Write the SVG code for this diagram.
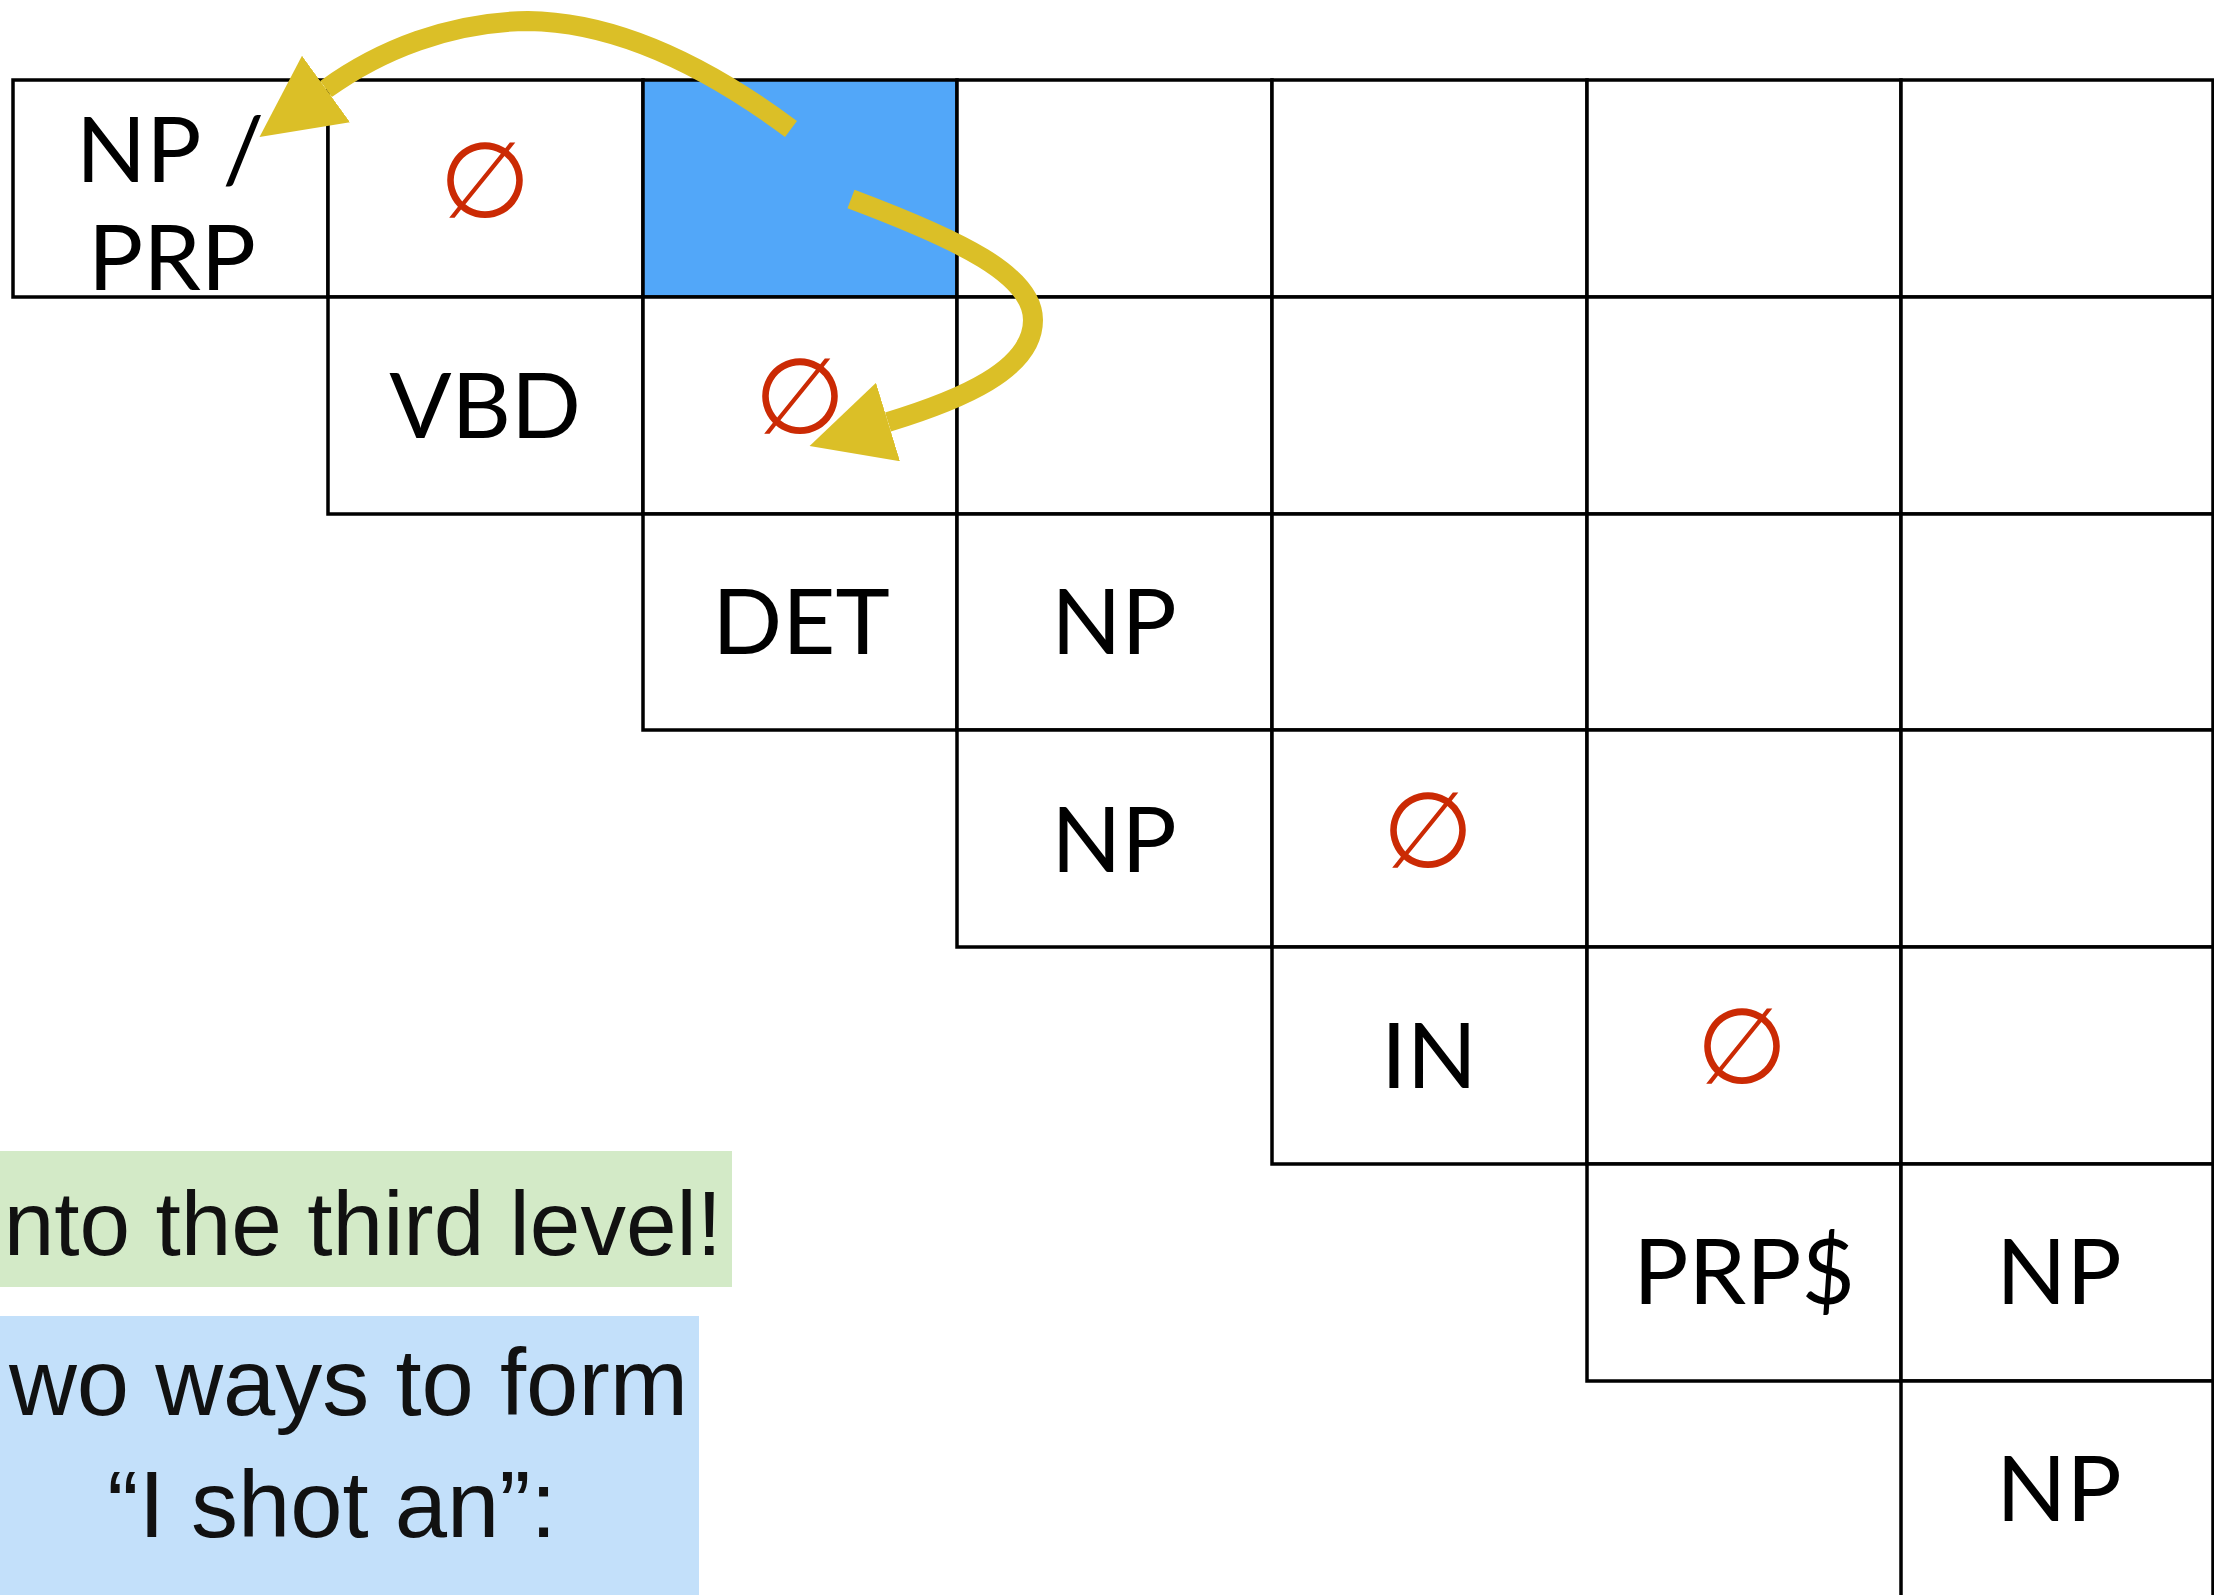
<svg xmlns="http://www.w3.org/2000/svg" width="2214" height="1595" viewBox="0 0 2214 1595">
<defs>
<style>
.cell{fill:#ffffff;stroke:#000000;stroke-width:3.5}
.hl{fill:#52A7F9}
.lbl{font-family:"Lato","Liberation Sans",sans-serif;font-size:92px;fill:#000000;text-anchor:middle}
.empty{font-family:"DejaVu Sans",sans-serif;font-size:105px;fill:#CB2A04;text-anchor:middle}
.arrow{fill:none;stroke:#DBBF27;stroke-width:20;stroke-linecap:butt}
.note{font-family:"Liberation Sans",Arial,sans-serif;font-size:94px;fill:#111111}
.note-s{font-size:91px}
</style>
<marker id="head" markerUnits="userSpaceOnUse" viewBox="0 0 82 82" markerWidth="82" markerHeight="82" refX="0" refY="41" orient="auto">
<path d="M0,0 L82,41 L0,82 Z" fill="#DBBF27"/>
</marker>
</defs>
<rect width="2214" height="1595" fill="#ffffff"/>

<g id="r0c0"><rect class="cell" x="13" y="80" width="315" height="217"/><text class="lbl" x="170" y="182">NP /</text><text class="lbl" x="172" y="290">PRP</text></g>
<g id="r0c1"><rect class="cell" x="328" y="80" width="315" height="217"/><text class="empty" x="485" y="217">∅</text></g>
<g id="r0c2"><rect class="cell hl" x="643" y="80" width="314" height="217"/></g>
<g id="r0c3"><rect class="cell" x="957" y="80" width="315" height="217"/></g>
<g id="r0c4"><rect class="cell" x="1272" y="80" width="315" height="217"/></g>
<g id="r0c5"><rect class="cell" x="1587" y="80" width="314" height="217"/></g>
<g id="r0c6"><rect class="cell" x="1901" y="80" width="312" height="217"/></g>

<g id="r1c1"><rect class="cell" x="328" y="297" width="315" height="217"/><text class="lbl" x="485" y="438">VBD</text></g>
<g id="r1c2"><rect class="cell" x="643" y="297" width="314" height="217"/><text class="empty" x="800" y="433">∅</text></g>
<g id="r1c3"><rect class="cell" x="957" y="297" width="315" height="217"/></g>
<g id="r1c4"><rect class="cell" x="1272" y="297" width="315" height="217"/></g>
<g id="r1c5"><rect class="cell" x="1587" y="297" width="314" height="217"/></g>
<g id="r1c6"><rect class="cell" x="1901" y="297" width="312" height="217"/></g>

<g id="r2c2"><rect class="cell" x="643" y="514" width="314" height="216"/><text class="lbl" x="801" y="654">DET</text></g>
<g id="r2c3"><rect class="cell" x="957" y="514" width="315" height="216"/><text class="lbl" x="1114" y="654">NP</text></g>
<g id="r2c4"><rect class="cell" x="1272" y="514" width="315" height="216"/></g>
<g id="r2c5"><rect class="cell" x="1587" y="514" width="314" height="216"/></g>
<g id="r2c6"><rect class="cell" x="1901" y="514" width="312" height="216"/></g>

<g id="r3c3"><rect class="cell" x="957" y="730" width="315" height="217"/><text class="lbl" x="1114" y="872">NP</text></g>
<g id="r3c4"><rect class="cell" x="1272" y="730" width="315" height="217"/><text class="empty" x="1428" y="867">∅</text></g>
<g id="r3c5"><rect class="cell" x="1587" y="730" width="314" height="217"/></g>
<g id="r3c6"><rect class="cell" x="1901" y="730" width="312" height="217"/></g>

<g id="r4c4"><rect class="cell" x="1272" y="947" width="315" height="217"/><text class="lbl" x="1429" y="1088">IN</text></g>
<g id="r4c5"><rect class="cell" x="1587" y="947" width="314" height="217"/><text class="empty" x="1742" y="1083">∅</text></g>
<g id="r4c6"><rect class="cell" x="1901" y="947" width="312" height="217"/></g>

<g id="r5c5"><rect class="cell" x="1587" y="1164" width="314" height="217"/><text class="lbl" x="1744" y="1304">PRP$</text></g>
<g id="r5c6"><rect class="cell" x="1901" y="1164" width="312" height="217"/><text class="lbl" x="2059" y="1304">NP</text></g>

<g id="r6c6"><rect class="cell" x="1901" y="1381" width="312" height="217"/><text class="lbl" x="2059" y="1521">NP</text></g>

<g id="connectors">
<path class="arrow" marker-end="url(#head)" d="M791,129 C705,65 615,22 528,21 C450,22 380,50 326,89"/>
<path class="arrow" marker-end="url(#head)" d="M851,199 C960,240 1033,275 1033,320 C1033,370 960,400 888,422"/>
</g>

<g id="note-green"><rect x="0" y="1151" width="732" height="136" fill="#D3EAC7"/><text class="note note-s" x="722" y="1255" text-anchor="end">nto the third level!</text></g>
<g id="note-blue"><rect x="0" y="1316" width="699" height="280" fill="#C3E0FA"/><text class="note" x="688" y="1415" text-anchor="end">wo ways to form</text><text class="note" x="332" y="1537" text-anchor="middle">“I shot an”:</text></g>
</svg>
